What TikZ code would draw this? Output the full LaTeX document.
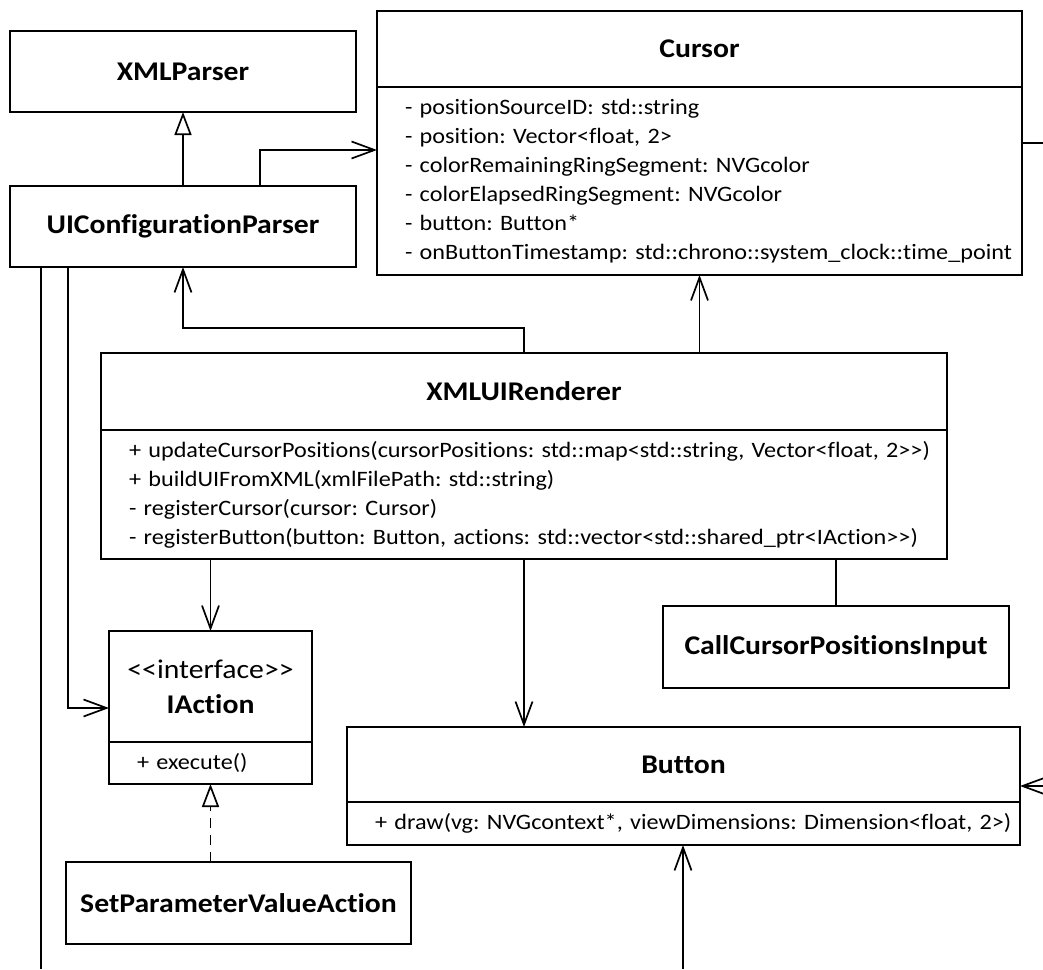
\documentclass[tikz,border=0pt]{standalone}
\usepackage{fontspec}
\setmainfont{Carlito}[FakeStretch=1.1, Ligatures=NoCommon]
\usetikzlibrary{arrows.meta}
\frenchspacing
\begin{document}
\begin{tikzpicture}[x=0.5pt, y=-0.5pt,
    box/.style={rectangle, draw, line width=0.9pt, inner sep=0pt, outer sep=0pt, align=center, font=\fontsize{13.5}{17.5}\selectfont\bfseries},
    members/.style={rectangle, draw, line width=0.9pt, inner xsep=14pt, inner ysep=0pt, outer sep=0pt, align=left, anchor=north, font=\fontsize{11}{14.5}\selectfont},
    assoc/.style={line width=0.85pt, -{Straight Barb[length=11.5pt, width=8.5pt, line width=0.85pt]}},
    inherit/.style={line width=0.85pt, -{Triangle[open, length=11.5pt, width=8.5pt, line width=0.85pt]}},
    link/.style={line width=0.85pt}]
    \useasboundingbox (0,0) rectangle (1043,969);

    % Klassen
    \node[box, minimum width=173pt, minimum height=40.5pt] (xp) at (183,71.5) {XMLParser};
    \node[box, minimum width=173pt, minimum height=40.5pt] (ui) at (183,226.5) {UIConfigurationParser};

    \node[box, minimum width=322.5pt, minimum height=38pt] (cur) at (699.5,49) {Cursor};
    \node[members, text width=294.5pt, minimum height=94pt] (curattr) at (cur.south) {\mbox{- positionSourceID: std::string}\\
        \mbox{- position: Vector<float, 2>}\\
        \mbox{- colorRemainingRingSegment: NVGcolor}\\
        \mbox{- colorElapsedRingSegment: NVGcolor}\\
        \mbox{- button: Button*}\\
        \mbox{- onButtonTimestamp: std::chrono::system\_clock::time\_point}};

    \node[box, minimum width=423pt, minimum height=38.5pt] (ren) at (524,391.5) {XMLUIRenderer};
    \node[members, text width=395pt, minimum height=64.5pt] (renops) at (ren.south) {\mbox{+ updateCursorPositions(cursorPositions: std::map<std::string, Vector<float, 2>{}>)}\\
        \mbox{+ buildUIFromXML(xmlFilePath: std::string)}\\
        \mbox{- registerCursor(cursor: Cursor)}\\
        \mbox{- registerButton(button: Button, actions: std::vector<std::shared\_ptr<IAction>{}>)}};

    \node[box, minimum width=101.5pt, minimum height=55.5pt] (ia) at (210.5,686.5) {{\mdseries <{}<interface>{}>}\\IAction};
    \node[members, text width=73.5pt, minimum height=21pt] (iaops) at (ia.south) {\mbox{+ execute()}};

    \node[box, minimum width=172.5pt, minimum height=41pt] (spva) at (238.5,903) {SetParameterValueAction};
    \node[box, minimum width=173pt, minimum height=41pt] (ccpi) at (836,647) {CallCursorPositionsInput};

    \node[box, minimum width=336.5pt, minimum height=37.5pt] (btn) at (683.5,764.5) {Button};
    \node[members, text width=308.5pt, minimum height=21.5pt] (btnops) at (btn.south) {\mbox{+ draw(vg: NVGcontext*, viewDimensions: Dimension<float, 2>)}};

    % freie Enden
    \coordinate (leftend) at (41,969);
    \coordinate (btnend) at (683,969);
    \coordinate (rightup) at (1043,143);
    \coordinate (rightdown) at (1043,786);

    % Vererbung
    \draw[inherit] (ui.north) -- (xp.south);
    \draw[inherit, dash pattern=on 5pt off 3.5pt] (spva.north -| iaops.south) -- (iaops.south);

    % Assoziationen
    \draw[assoc] ([xshift=38.5pt]ui.north) |- ([yshift=15.5pt]curattr.west);
    \draw[assoc] (ren.north) -- ++(0,12.5pt) -| (ui.south);
    \draw[assoc] (ren.north -| curattr.south) -- (curattr.south);
    \draw[assoc] (renops.south -| ia.north) -- (ia.north);
    \draw[assoc] (renops.south) -- (renops.south |- btn.north);
    \draw[link] (renops.south -| ccpi.north) -- (ccpi.north);
    \draw[assoc] ([xshift=-57.5pt]ui.south) |- ([yshift=-10.75pt]ia.west);
    \draw[link] ([xshift=-71pt]ui.south) -- (leftend);
    \draw[assoc] (btnend) -- (btnend |- btnops.south);
    \draw[link] (curattr.east |- rightup) -- (rightup);
    \draw[assoc] (rightdown) -- (btn.east |- rightdown);
\end{tikzpicture}
\end{document}
